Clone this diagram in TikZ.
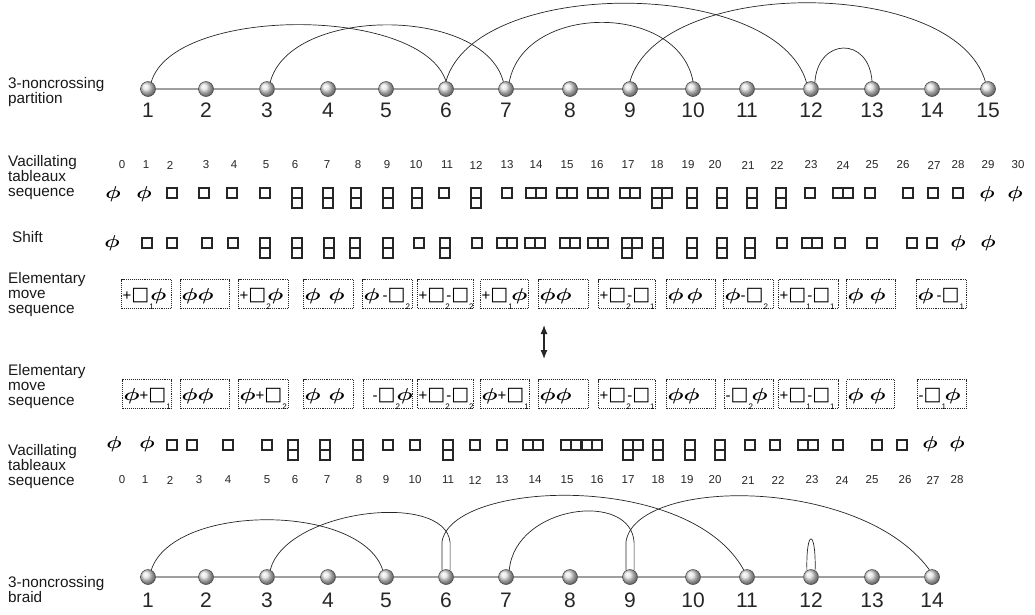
\documentclass[tikz,border=0pt]{standalone}
\usepackage{fontspec}
\usepackage{graphicx}
\setmainfont{Liberation Sans}
\newfontfamily\djv{DejaVu Sans}
\usetikzlibrary{arrows.meta}
\newcommand{\Ph}{\scalebox{1.3}[1]{\fontsize{18}{18}\selectfont\boldmath$\phi$}}
\newcommand{\ph}{\scalebox{1.25}[1]{\fontsize{16}{16}\selectfont\boldmath$\phi$}}
\newcommand{\Bx}{{\djv\fontsize{19}{19}\selectfont □}}
\newcommand{\Sb}[1]{\makebox[1pt][l]{\raisebox{-9pt}{\fontsize{8}{8}\selectfont #1}}}
\newcommand{\Pl}{{\fontsize{15}{15}\selectfont +}}
\newcommand{\Mi}{{\fontsize{15}{15}\selectfont -}}
\newcommand{\mvb}[5]{\node[mv,minimum width=#3-#2] (#1) at (#2,#4) {\makebox[\dimexpr#3pt-#2pt\relax][l]{\hspace{1pt}#5}};}
\begin{document}
\begin{tikzpicture}[x=1pt,y=-1pt,
  ball/.style={circle,minimum size=15pt,inner sep=0pt,shading=ball,ball color=gray!22,draw=gray!50!black,line width=0.5pt},
  base/.style={line width=2.2pt,draw=gray!75},
  arc/.style={line width=0.7pt,draw=black!85},
  num/.style={font=\fontsize{21}{21}\selectfont,inner sep=0pt,text=black!85},
  idx/.style={font=\fontsize{11.5}{11.5}\selectfont,inner sep=0pt,text=black!85},
  side/.style={font=\fontsize{15.3}{15}\selectfont,align=left,anchor=west,inner sep=0pt,text=black!90},
  yd/.style={line width=1.4pt,draw=black!85},
  emp/.style={inner sep=0pt},
  mv/.style={draw=black!85,densely dotted,line width=1.1pt,minimum height=29pt,inner sep=0pt,text height=12pt,text depth=0pt,anchor=west},
  sq/.pic={\draw[yd] (-5,-5) rectangle (5,5);},
  vd/.pic={\draw[yd] (-5,-5) rectangle (5,5) (-5,5) rectangle (5,15);},
  hd/.pic={\draw[yd] (-10,-5) rectangle (0,5) (0,-5) rectangle (10,5);},
  tf/.pic={\draw[yd] (-10,-5) rectangle (0,5) (0,-5) rectangle (10,5) (-10,5) rectangle (0,15);},
]
\useasboundingbox (0,0) rectangle (1035,614);
% ---------- side labels
\node[side] (lpart) at (8,92) {3-noncrossing\\partition};
\node[side] (lvac1) at (8,178) {Vacillating\\tableaux\\sequence};
\node[side] (lshift) at (12,237) {Shift};
\node[side] (lem1) at (8,295) {Elementary\\move\\sequence};
\node[side] (lem2) at (8,387) {Elementary\\move\\sequence};
\node[side] (lvac2) at (8,467) {Vacillating\\tableaux\\sequence};
\node[side] (lbraid) at (8,590) {3-noncrossing\\braid};
% ---------- top partition
\foreach \i/\x in {1/148,2/206,3/267,4/328,5/386,6/446,7/506,8/570,9/630,10/693,11/747,12/811,13/872,14/932,15/988}{
  \node[ball] (p\i) at (\x,89) {};
  \node[num] (pl\i) at (\x,110) {\i};
}
\foreach \i [count=\j from 2] in {1,...,14} \draw[base] (p\i) -- (p\j);
\draw[arc] (p1.65) .. controls +(22,-76) and +(-25,-76) .. (p6.north);
\draw[arc] (p3.65) .. controls +(20,-76) and +(-20,-76) .. (p7.110);
\draw[arc] (p6.north) .. controls +(30,-105) and +(-30,-105) .. (p12.125);
\draw[arc] (p7.65) .. controls +(15,-79) and +(-15,-79) .. (p10.north);
\draw[arc] (p9.north) .. controls +(30,-105) and +(-30,-105) .. (p15.110);
\draw[arc] (p12.60) .. controls +(3,-45) and +(-3,-45) .. (p13.north);
% ---------- top vacillating sequence
\foreach \i/\x in {0/122,1/146,2/170,3/206,4/234,5/266,6/295,7/327,8/358,9/387,10/416,11/447,12/476,13/507,14/536,15/567,16/597,17/628,18/657,19/688,20/715,21/748,22/777,23/811,24/843,25/872,26/903,27/934,28/958,29/988,30/1018}
  \node[idx] (ti\i) at (\x,165) {\i};
\foreach \x [count=\k] in {113,144,987,1015} \node[emp] (te\k) at (\x,194) {\ph};
\foreach \x in {172,204,232,265,444,507,810,870,908,933,958} \pic at (\x,193) {sq};
\foreach \x in {297,328,356,388,417,476,692,722,752,781} \pic at (\x,193) {vd};
\foreach \x in {536,567,598,630,843} \pic at (\x,193) {hd};
\pic at (662,193) {tf};
% ---------- shift
\foreach \x [count=\k] in {112,958,988} \node[emp] (se\k) at (\x,243) {\ph};
\foreach \x in {147,172,207,233,419,477,782,840,872,912,932} \pic at (\x,243) {sq};
\foreach \x in {265,297,329,355,388,445,658,692,722,750} \pic at (\x,243) {vd};
\foreach \x in {507,535,570,598,812} \pic at (\x,243) {hd};
\pic at (632,243) {tf};
% ---------- elementary moves (top)
\mvb{ta1}{121}{171}{294}{\Pl\Bx\Sb{1}\Ph}
\mvb{ta2}{180}{229}{294}{\Ph\Ph}
\mvb{ta3}{238}{288}{294}{\Pl\Bx\Sb{2}\Ph}
\mvb{ta4}{303}{353}{294}{\Ph\hspace{8pt}\Ph}
\mvb{ta5}{362}{412}{294}{\Ph\hspace{3pt}\Mi\Bx\Sb{2}}
\mvb{ta6}{417}{473}{294}{\Pl\Bx\Sb{2}\Mi\Bx\Sb{2}}
\mvb{ta7}{480}{528}{294}{\Pl\Bx\Sb{1}\hspace{2pt}\Ph}
\mvb{ta8}{538}{588}{294}{\Ph\Ph}
\mvb{ta9}{598}{655}{294}{\Pl\Bx\Sb{2}\Mi\Bx\Sb{1}}
\mvb{ta10}{666}{715}{294}{\Ph\hspace{3pt}\Ph}
\mvb{ta11}{723}{773}{294}{\Ph\Mi\Bx\Sb{2}}
\mvb{ta12}{778}{838}{294}{\Pl\Bx\Sb{1}\Mi\Bx\Sb{1}}
\mvb{ta13}{846}{895}{294}{\Ph\hspace{6pt}\Ph}
\mvb{ta14}{916}{966}{294}{\Ph\hspace{3pt}\Mi\Bx\Sb{1}}
% ---------- double arrow
\coordinate (au) at (544,325);
\coordinate (ad) at (544,359);
\draw[{Latex[length=9pt,width=7pt]}-{Latex[length=9pt,width=7pt]},line width=1.2pt,black!85] (au) -- (ad);
% ---------- elementary moves (bottom)
\mvb{ba1}{122}{171}{394}{\Ph\Pl\Bx\Sb{1}}
\mvb{ba2}{180}{229}{394}{\Ph\Ph}
\mvb{ba3}{238}{288}{394}{\Ph\Pl\Bx\Sb{2}}
\mvb{ba4}{303}{353}{394}{\Ph\hspace{8pt}\Ph}
\mvb{ba5}{363}{412}{394}{\hspace{8pt}\Mi\Bx\Sb{2}\Ph}
\mvb{ba6}{417}{473}{394}{\Pl\Bx\Sb{2}\Mi\Bx\Sb{2}}
\mvb{ba7}{480}{529}{394}{\Ph\Pl\Bx\Sb{1}}
\mvb{ba8}{538}{588}{394}{\Ph\Ph}
\mvb{ba9}{598}{655}{394}{\Pl\Bx\Sb{2}\Mi\Bx\Sb{1}}
\mvb{ba10}{666}{715}{394}{\Ph\Ph}
\mvb{ba11}{724}{773}{394}{\Mi\Bx\Sb{2}\hspace{2pt}\Ph}
\mvb{ba12}{778}{838}{394}{\Pl\Bx\Sb{1}\Mi\Bx\Sb{1}}
\mvb{ba13}{846}{894}{394}{\Ph\hspace{6pt}\Ph}
\mvb{ba14}{917}{966}{394}{\Mi\Bx\Sb{1}\hspace{2pt}\Ph}
% ---------- bottom vacillating sequence
\foreach \x [count=\k] in {114,147,930,957} \node[emp] (be\k) at (\x,444) {\ph};
\foreach \x in {172,192,228,267,388,415,475,502,750,775,838,877,902} \pic at (\x,445) {sq};
\foreach \x in {293,325,358,448,658,690,720} \pic at (\x,445) {vd};
\foreach \x in {533,571,592,808} \pic at (\x,445) {hd};
\pic at (633,445) {tf};
\foreach \i/\x in {0/122,1/145,2/170,3/199,4/228,5/267,6/295,7/327,8/359,9/386,10/415,11/448,12/475,13/502,14/535,15/567,16/597,17/628,18/658,19/687,20/715,21/748,22/778,23/812,24/842,25/872,26/905,27/933,28/957}
  \node[idx] (bi\i) at (\x,480) {\i};
% ---------- bottom braid
\foreach \i/\x in {1/148,2/206,3/267,4/328,5/386,6/446,7/506,8/570,9/630,10/693,11/747,12/811,13/872,14/932}{
  \node[ball] (b\i) at (\x,577) {};
  \node[num] (bl\i) at (\x,600) {\i};
}
\foreach \i [count=\j from 2] in {1,...,13} \draw[base] (b\i) -- (b\j);
\draw[arc] (b1.65) .. controls +(22,-67) and +(-22,-67) .. (b5.115);
\draw[arc] (b6.58) -- ++(0,-28) .. controls +(-5,-52) and +(15,-60) .. (b3.65);
\draw[arc] (b6.122) -- ++(0,-28) .. controls +(8,-62) and +(-55,-100) .. (b11.115);
\draw[arc] (b9.58) -- ++(0,-28) .. controls +(-3,-52) and +(6,-65) .. (b7.65);
\draw[arc] (b9.122) -- ++(0,-28) .. controls +(8,-65) and +(-70,-95) .. (b14.110);
\draw[arc] (b12.122) .. controls +(-1,-42) and +(1,-42) .. (b12.58);
\end{tikzpicture}
\end{document}
